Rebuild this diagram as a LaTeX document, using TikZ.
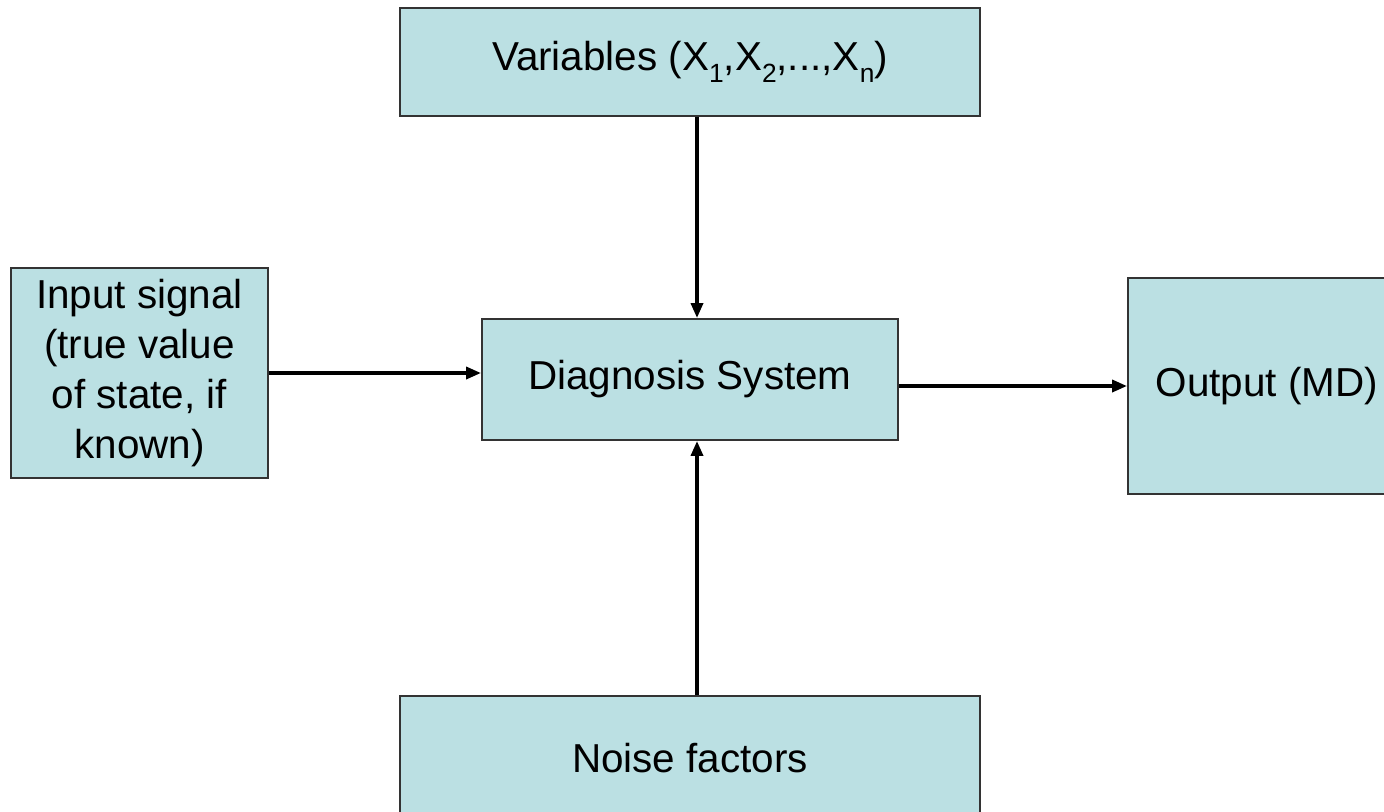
\documentclass[tikz,border=0pt]{standalone}
\usepackage{fontspec}
\setmainfont{Liberation Sans}
\usetikzlibrary{arrows.meta}
\definecolor{boxfill}{HTML}{BBE0E3}
\newcommand{\varsub}[1]{\raisebox{-0.3em}{\fontsize{15}{15}\selectfont #1}}

\begin{document}
\begin{tikzpicture}[
		box/.style={draw=black!80, line width=1.1pt, fill=boxfill, inner sep=0pt, align=center,
			font=\fontsize{23}{28.5}\selectfont},
		flow/.style={line width=2pt, -{Triangle[length=0.3cm, width=0.24cm]}}]
		\useasboundingbox (0, 0) rectangle (27.68, -16.22);
		\clip (0, 0) rectangle (27.68, -16.22);
		
		% boxes
		\node[box, minimum width=11.6cm, minimum height=2.16cm] (vars) at (13.8, -1.24)
			{Variables (X\varsub{1},X\varsub{2},...,X\varsub{n})};
		\node[box, minimum width=5.14cm, minimum height=4.2cm] (input) at (2.79, -7.46)
			{Input signal\\(true value\\of state, if\\known)};
		\node[box, minimum width=8.32cm, minimum height=2.42cm] (diag) at (13.8, -7.59) {Diagnosis System};
		\node[box, minimum width=5.56cm, minimum height=4.32cm] (output) at (25.34, -7.72) {Output (MD)};
		\node[box, minimum width=11.6cm, minimum height=2.48cm] (noise) at (13.8, -15.16) {Noise factors};
		
		% arrows into and out of the system
		\draw[flow] ([xshift=1.4mm]vars.south) -- ([xshift=1.4mm]diag.north);
		\draw[flow] ([xshift=1.4mm]noise.north) -- ([xshift=1.4mm]diag.south);
		\draw[flow] (input.east) -- (input.east -| diag.west);
		\draw[flow] (diag.east |- output.west) -- (output.west);
		
	\end{tikzpicture}
\end{document}
